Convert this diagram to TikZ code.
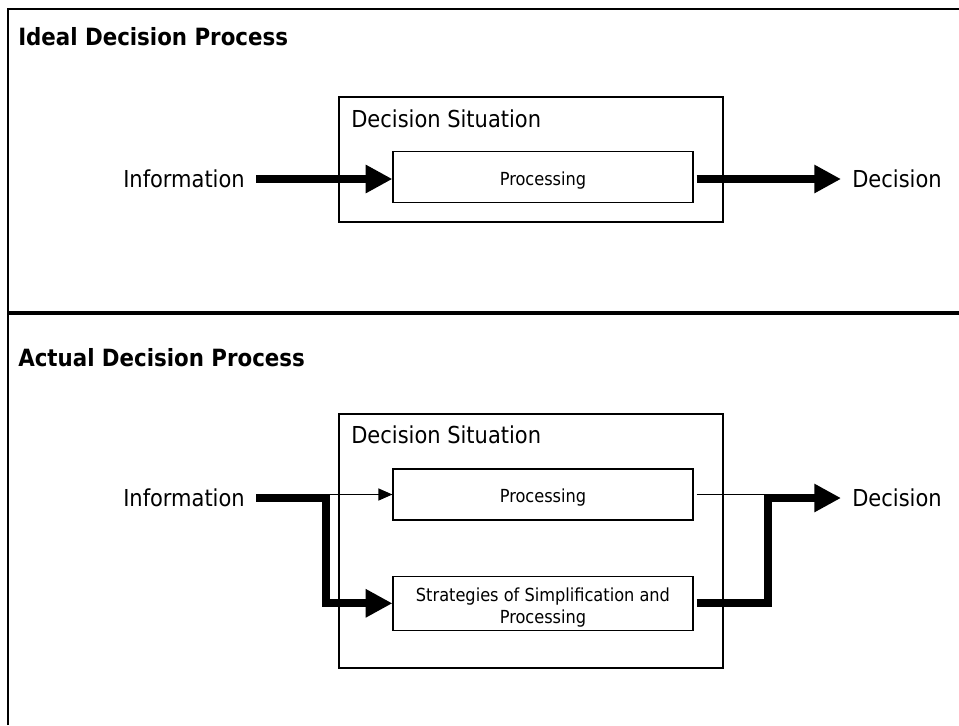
\documentclass[tikz,border=0pt]{standalone}
\usepackage{fontspec}
\setmainfont{DejaVu Sans Condensed}
\usetikzlibrary{arrows.meta}
% two-line box text with a fixed reported height and depth, so it sits low in its box
\newcommand{\twolines}[1]{\raisebox{0pt}[10pt][12.4pt]{\begin{tabular}[t]{@{}c@{}}#1\end{tabular}}}
\begin{document}
\begin{tikzpicture}[x=0.75pt,y=-0.75pt,
  big/.style={font=\fontsize{17.5}{21}\selectfont},
  small/.style={font=\fontsize{13.5}{16.7}\selectfont},
  heading/.style={font=\fontsize{17.8}{21}\selectfont\bfseries, anchor=base west, inner sep=0},
  sitlabel/.style={big, anchor=base west, inner sep=0},
  endlabel/.style={big, inner xsep=8.25pt, inner ysep=0},
  stepbox/.style={draw, line width=0.9pt, inner sep=0, align=center, small, minimum width=225pt},
  oneline/.style={text height=12pt, text depth=0pt},
  sitbox/.style={draw, line width=0.9pt, inner sep=0, minimum width=288pt},
  flow/.style={line width=6pt, line join=miter, -{Triangle[length=20pt,width=20pt]}},
  thinflow/.style={line width=1pt, -{Triangle[length=10.5pt,width=9pt]}}
]
\useasboundingbox (0,0) rectangle (959,725);

% frame and divider
\draw[line width=1.5pt] (8,725) -- (8,9) -- (959,9);
\draw[line width=3pt] (8,313) -- (959,313);

% ---------- ideal process ----------
\node[heading] (t1) at (18,45) {Ideal Decision Process};
\node[sitbox, minimum height=93.75pt] (sit1) at (531,159.5) {};
\node[sitlabel] (sl1) at (351,127) {Decision Situation};
\node[stepbox, oneline, minimum height=38.25pt] (proc1) at (543,177.2) {Processing};
\node[endlabel, anchor=east] (info1) at (256,179) {Information};
\node[endlabel, anchor=west] (dec1) at (841,179) {Decision};
\draw[flow] (info1.east) -- (proc1.west |- info1.east);
\draw[flow, shorten <=2.25pt] (proc1.east |- dec1.west) -- (dec1.west);

% ---------- actual process ----------
\node[heading] (t2) at (18,366) {Actual Decision Process};
\node[sitbox, minimum height=190.5pt] (sit2) at (531,541) {};
\node[sitlabel] (sl2) at (351,443) {Decision Situation};
\node[stepbox, oneline, minimum height=38.25pt] (proc2) at (543,494.5) {Processing};
\node[stepbox, minimum height=40.5pt] (strat) at (543,603.3) {\twolines{Strategies of Simplification and\\Processing}};
\node[endlabel, anchor=east] (info2) at (256,498) {Information};
\node[endlabel, anchor=west] (dec2) at (841,498) {Decision};
\coordinate (split) at (325.5,498);
\coordinate (merge) at (767.5,498);

\draw[thinflow] (split |- proc2.west) -- (proc2.west);
\draw[flow] (info2.east) -- (split) |- (strat.west);
\draw[line width=1pt, shorten <=2.25pt] (proc2.east) -- (proc2.east -| merge);
\draw[flow, shorten <=2.25pt] (strat.east) -| (merge) -- (dec2.west);
\end{tikzpicture}
\end{document}
